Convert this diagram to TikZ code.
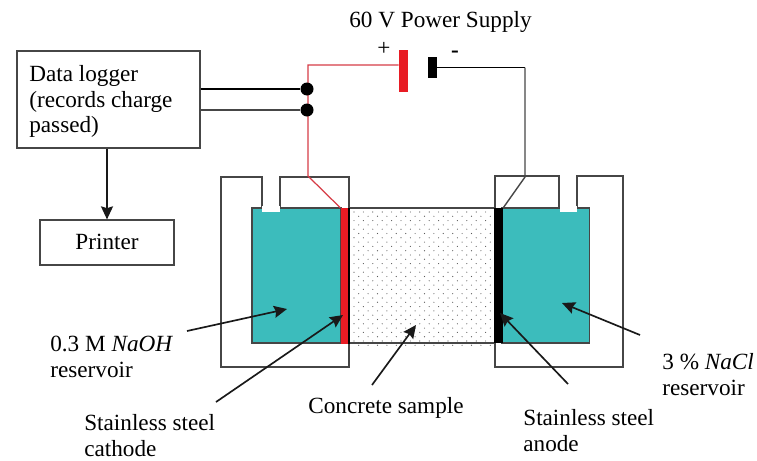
\documentclass[tikz,border=0pt]{standalone}
\usepackage{fontspec}
\setmainfont{Liberation Serif}
\usetikzlibrary{arrows.meta,positioning,calc}
\definecolor{tealwater}{RGB}{60,188,188}
\definecolor{wirered}{RGB}{214,60,70}
\definecolor{platered}{RGB}{232,28,36}
\definecolor{linegray}{RGB}{70,70,70}
\tikzset{
    lbl/.style={font=\fontsize{13.2}{14.6}\selectfont, inner sep=0pt, align=left},
    box/.style={draw=linegray, line width=0.7pt, fill=white, inner sep=0pt},
    reservoir/.style={draw=linegray, line width=0.7pt, fill=tealwater, inner sep=0pt, minimum height=135*0.02cm},
    plate/.style={inner sep=0pt, minimum width=8*0.02cm},
    vessel/.style={draw=linegray, line width=0.7pt},
    pointer/.style={->, line width=0.95pt, black!90},
    junction/.style={circle, fill=black, inner sep=0pt, minimum size=13*0.02cm},
}
\begin{document}
\begin{tikzpicture}[x=0.02cm, y=-0.02cm, >={Stealth[length=13*0.02cm, width=12*0.02cm, inset=1pt]}]
    \useasboundingbox (0,0) rectangle (757,460);

    % Left and right vessels
    \draw[vessel] (262,208) -- (262,177) -- (221,177) -- (221,367) -- (349,367) -- (349,177) -- (280,177) -- (280,208);
    \draw[vessel] (559,208) -- (559,176) -- (495,176) -- (495,367) -- (623,367) -- (623,176) -- (577,176) -- (577,208);

    % Reservoirs and sample
    \node[reservoir, minimum width=89*0.02cm] (resL) at (296.5,275.5) {};
    \node[reservoir, minimum width=88*0.02cm] (resR) at (545.5,275.5) {};
    \fill[white] (261.5,206) rectangle (280,212);
    \fill[white] (559.5,206) rectangle (577,212);
    \node[box, minimum width=146*0.02cm, minimum height=135*0.02cm] (sample) at (422,275.5) {};
    \foreach \i in {0,...,29} {
        \foreach \j in {0,...,15} {
            \pgfmathsetmacro{\px}{354+\i*4.7}
            \pgfmathsetmacro{\py}{212+\j*8.6+mod(\i,2)*4.3}
            \fill[black!65] (\px,\py) circle (0.33pt);
        }
    }
    \node[plate, fill=platered, minimum height=136*0.02cm] (cathode) at (344.5,276) {};
    \node[plate, fill=black, minimum width=9*0.02cm, minimum height=135*0.02cm] (anode) at (498.5,275.5) {};
    \draw[black, line width=0.9pt] (cathode.north east) -- (cathode.south east);

    % Power supply
    \node[plate, fill=platered, minimum width=9*0.02cm, minimum height=42*0.02cm] (plus) at (403.5,71) {};
    \node[plate, fill=black, minimum width=9*0.02cm, minimum height=21*0.02cm] (minus) at (432.5,67.5) {};
    \node[lbl] (supply) at (440.5,22) {60 V Power Supply};
    \node[lbl] (plussign) at (384,49) {+};
    \node[lbl] (minussign) at (455,54) {\textbf{-}};

    % Wires
    \coordinate (redcorner) at (308,65);
    \coordinate (redknee) at (308,176);
    \coordinate (blackcorner) at (525,67.5);
    \coordinate (blackknee) at (525,177);
    \draw[wirered, line width=0.7pt] (plus.west |- redcorner) -- (redcorner) -- (redknee) -- (cathode.north west);
    \draw[black, line width=0.7pt] (minus.east |- blackcorner) -- (blackcorner);
    \draw[linegray, line width=0.8pt] (blackcorner) -- (blackknee) -- (anode.north east);

    % Data logger and printer
    \node[box, minimum width=183*0.02cm, minimum height=97*0.02cm] (logger) at (108.5,99.5) {};
    \node[lbl, anchor=north west] (loggertext) at (29,65) {Data logger\\(records charge\\passed)};
    \node[box, lbl, minimum width=134*0.02cm, minimum height=45*0.02cm] (printer) at (107,242.5) {\raisebox{1pt}{Printer}};
    \node[junction] (dotA) at (307,89) {};
    \node[junction] (dotB) at (307,110) {};
    \draw[line width=0.6pt] (logger.east |- dotA) -- (dotA);
    \draw[linegray, line width=0.6pt] (logger.east |- dotB) -- (dotB);
    \draw[pointer] (logger.south -| printer.north) -- (printer.north);

    % Labels
    \node[lbl, anchor=north west] (naoh) at (50,336) {0.3 M \textit{NaOH}\\reservoir};
    \node[lbl, anchor=north west] (cathodetext) at (84,414) {Stainless steel\\cathode};
    \node[lbl] (concrete) at (386,408) {Concrete sample};
    \node[lbl, anchor=north west] (anodetext) at (523,409) {Stainless steel\\anode};
    \node[lbl, anchor=north west] (nacl) at (662,353) {3 \% \textit{NaCl}\\reservoir};

    \coordinate (naohtail) at (187,331);
    \coordinate (naohtip) at (287,309);
    \coordinate (cathodetail) at (216,402);
    \coordinate (cathodetip) at (343,315);
    \coordinate (concretetail) at (372,385);
    \coordinate (concretetip) at (416,325);
    \coordinate (anodetail) at (568,384);
    \coordinate (anodetip) at (500,313);
    \coordinate (nacltail) at (640,335);
    \coordinate (nacltip) at (562,303);
    \draw[pointer] (naohtail) -- (naohtip);
    \draw[pointer] (cathodetail) -- (cathodetip);
    \draw[pointer] (concretetail) -- (concretetip);
    \draw[pointer] (anodetail) -- (anodetip);
    \draw[pointer] (nacltail) -- (nacltip);
\end{tikzpicture}
\end{document}
